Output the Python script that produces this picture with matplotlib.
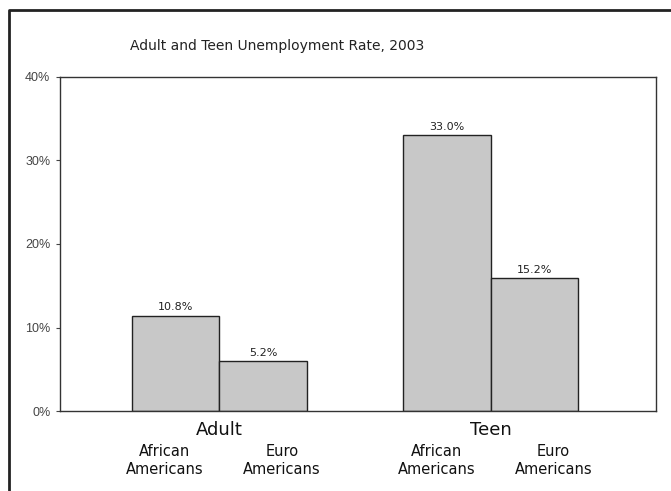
import matplotlib
matplotlib.use("Agg")
import matplotlib.pyplot as plt
from matplotlib.lines import Line2D
import numpy as np

groups = ["Adult", "Teen"]
races = ["African\nAmericans", "Euro\nAmericans"]
# bar heights as drawn in the picture (%), and the printed labels
heights = {"African": [11.4, 33.0], "Euro": [6.0, 15.9]}
value_labels = {"African": ["10.8%", "33.0%"], "Euro": ["5.2%", "15.2%"]}
yticks = [0, 10, 20, 30, 40]

W, H = 671, 491
fig = plt.figure(figsize=(W / 100, H / 100), dpi=100)
ax = fig.add_axes([60 / W, (H - 411) / H, 596 / W, 334 / H])

x = np.arange(len(groups))
w = 0.322
fill = "#c8c8c8"
ax.bar(x - w / 2, heights["African"], w, color=fill, edgecolor="#222222", linewidth=1.0)
ax.bar(x + w / 2, heights["Euro"], w, color=fill, edgecolor="#222222", linewidth=1.0)

for i in x:
    ax.text(i - w / 2, heights["African"][i] + 0.4, value_labels["African"][i],
            ha="center", va="bottom", fontsize=8, color="#222222")
    ax.text(i + w / 2, heights["Euro"][i] + 0.4, value_labels["Euro"][i],
            ha="center", va="bottom", fontsize=8, color="#222222")

ax.set_xlim(-0.587, 1.608)
ax.set_ylim(0, 40)
ax.set_yticks(yticks)
ax.set_yticklabels([f"{t}%" for t in yticks], fontsize=9, color="#444444",
                   family="Liberation Sans")
ax.tick_params(axis="y", length=3, width=0.8, color="#444444", pad=4)
ax.set_xticks([])
for s in ax.spines.values():
    s.set_color("#333333")
    s.set_linewidth(1.0)

tr = ax.get_xaxis_transform()
for i, g in enumerate(groups):
    ax.text(i, -0.03, g, transform=tr, ha="center", va="top", fontsize=13, color="#111111")
    ax.text(i - w / 2 - 0.04, -0.1, races[0], transform=tr, ha="center", va="top",
            fontsize=10.5, color="#111111", linespacing=1.2)
    ax.text(i + w / 2 + 0.07, -0.1, races[1], transform=tr, ha="center", va="top",
            fontsize=10.5, color="#111111", linespacing=1.2)

fig.text(277 / W, 1 - 46 / H, "Adult and Teen Unemployment Rate, 2003",
         ha="center", va="center", fontsize=10, color="#222222")

# frame around the chart (left and top edges only visible)
fig.add_artist(Line2D([9 / W, 9 / W, 1.0], [0.0, 1 - 10 / H, 1 - 10 / H],
                      transform=fig.transFigure, color="#222222", linewidth=2.0))

fig.savefig("out.png", dpi=100)
